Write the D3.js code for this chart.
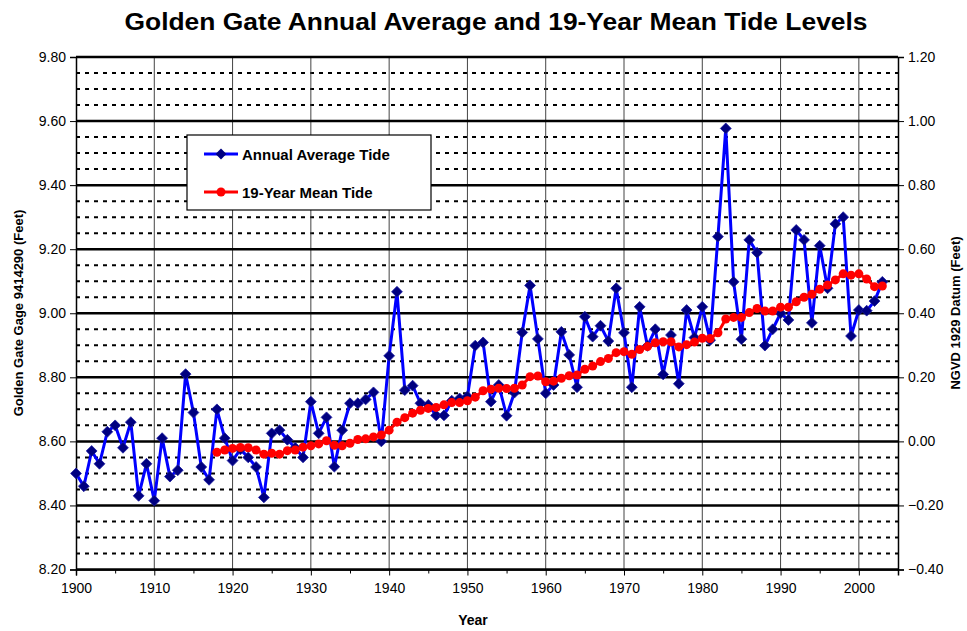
<!DOCTYPE html>
<html><head><meta charset="utf-8">
<script src="https://cdn.jsdelivr.net/npm/d3@7"></script>
<style>
body{margin:0;background:#fff;}
text{font-family:"Liberation Sans",Arial,sans-serif;}
</style></head>
<body>
<svg id="c" width="967" height="631"></svg>
<script>
const annualYears = d3.range(1900, 2004);
const annualValues = [
8.50,8.46,8.57,8.53,8.63,8.65,8.58,8.66,8.43,8.53,
8.415,8.61,8.49,8.51,8.81,8.69,8.52,8.48,8.70,8.61,
8.54,8.575,8.55,8.52,8.425,8.625,8.635,8.605,8.58,8.55,
8.724,8.625,8.675,8.521,8.635,8.719,8.719,8.731,8.753,8.60,
8.867,9.067,8.76,8.774,8.719,8.714,8.681,8.681,8.727,8.734,
8.74,8.899,8.909,8.724,8.776,8.68,8.752,8.94,9.087,8.92,
8.75,8.776,8.942,8.87,8.769,8.989,8.927,8.961,8.913,9.078,
8.939,8.769,9.02,8.898,8.95,8.809,8.932,8.78,9.01,8.924,
9.02,8.916,9.239,9.577,9.098,8.919,9.229,9.189,8.899,8.95,
9.0,8.979,9.26,9.229,8.97,9.211,9.078,9.279,9.3,8.929,
9.01,9.008,9.038,9.098];
const meanYears = d3.range(1918, 2004);
const meanValues = [
8.566,8.573,8.578,8.581,8.580,8.573,8.560,8.563,8.560,8.571,
8.573,8.582,8.586,8.592,8.602,8.588,8.586,8.594,8.606,8.608,
8.614,8.620,8.635,8.660,8.674,8.688,8.697,8.703,8.706,8.714,
8.721,8.721,8.727,8.738,8.758,8.763,8.766,8.765,8.766,8.776,
8.802,8.804,8.786,8.788,8.797,8.805,8.807,8.825,8.835,8.849,
8.859,8.877,8.880,8.872,8.887,8.896,8.908,8.911,8.911,8.895,
8.902,8.910,8.922,8.921,8.939,8.982,8.987,8.987,9.002,9.015,
9.007,9.007,9.019,9.019,9.036,9.050,9.059,9.075,9.088,9.104,
9.123,9.119,9.123,9.107,9.083,9.085];
const xTicks = d3.range(1900, 2001, 10);
const leftTicks = [8.20,8.40,8.60,8.80,9.00,9.20,9.40,9.60,9.80];
const rightTicks = [-0.40,-0.20,0.00,0.20,0.40,0.60,0.80,1.00,1.20];
const titleText = "Golden Gate Annual Average and 19-Year Mean Tide Levels";
const seriesNames = ["Annual Average Tide","19-Year Mean Tide"];

const svg = d3.select("#c");
const L=76, R=898, T=57, B=569.5;
const x = d3.scaleLinear().domain([1900,2005]).range([L,R]);
const y = d3.scaleLinear().domain([8.20,9.80]).range([B,T]);
const y2 = d3.scaleLinear().domain([-0.40,1.20]).range([B,T]);

// minor dotted gridlines
const minor = d3.range(8.25, 9.80, 0.05).filter(v => Math.abs((v*100)%20) > 1 && Math.abs((v*100)%20 - 20) > 1);
svg.append("g").selectAll("line").data(minor).join("line")
  .attr("x1",L).attr("x2",R).attr("y1",d=>y(d)).attr("y2",d=>y(d))
  .attr("stroke","#000").attr("stroke-width",2).attr("stroke-dasharray","4,5");
// vertical grid
svg.append("g").selectAll("line").data(xTicks.slice(1)).join("line")
  .attr("x1",d=>x(d)).attr("x2",d=>x(d)).attr("y1",T).attr("y2",B)
  .attr("stroke","#444").attr("stroke-width",1);
// major horizontal gridlines
svg.append("g").selectAll("line").data(leftTicks).join("line")
  .attr("x1",L).attr("x2",R).attr("y1",d=>y(d)).attr("y2",d=>y(d))
  .attr("stroke","#000").attr("stroke-width",2.5);

// axes
const fmt = d3.format(".2f");
const gL = svg.append("g").attr("transform",`translate(${L},0)`)
  .call(d3.axisLeft(y).tickValues(leftTicks).tickFormat(fmt).tickSize(6).tickPadding(4));
const gR = svg.append("g").attr("transform",`translate(${R},0)`)
  .call(d3.axisRight(y2).tickValues(rightTicks).tickFormat(fmt).tickSize(6).tickPadding(4));
const gB = svg.append("g").attr("transform",`translate(0,${B})`)
  .call(d3.axisBottom(x).tickValues(xTicks).tickFormat(d3.format("d")).tickSize(6).tickPadding(8));
svg.append("g").attr("transform",`translate(0,${B})`)
  .call(d3.axisBottom(x).tickValues(d3.range(1905,2005,10)).tickFormat("").tickSize(4))
  .select(".domain").remove();
[gL,gR,gB].forEach(g=>{
  g.selectAll("text").attr("font-size",14).attr("fill","#000").style("font-family","Liberation Sans, Arial, sans-serif");
  g.selectAll("line").attr("stroke","#000");
  g.select(".domain").attr("stroke","#000").attr("stroke-width",1.5);
});

// lines
const line = d3.line().x(d=>x(d[0])).y(d=>y(d[1]));
const aData = annualYears.map((yr,i)=>[yr,annualValues[i]]);
const mData = meanYears.map((yr,i)=>[yr,meanValues[i]]);
svg.append("path").datum(aData).attr("d",line).attr("fill","none").attr("stroke","#0000ff").attr("stroke-width",3).attr("stroke-linejoin","round");
const dia = d3.symbol().type(d3.symbolDiamond2 || d3.symbolDiamond).size(75);
svg.append("g").selectAll("path").data(aData).join("path")
  .attr("d",dia).attr("transform",d=>`translate(${x(d[0])},${y(d[1])})`)
  .attr("fill","#000080").attr("stroke","#1a1aa0").attr("stroke-width",0.8);
svg.append("path").datum(mData).attr("d",line).attr("fill","none").attr("stroke","#ff0000").attr("stroke-width",3);
svg.append("g").selectAll("circle").data(mData).join("circle")
  .attr("cx",d=>x(d[0])).attr("cy",d=>y(d[1])).attr("r",4.5).attr("fill","#ff0000");

// legend
const lg = svg.append("g");
lg.append("rect").attr("x",187).attr("y",135).attr("width",244).attr("height",75)
  .attr("fill","#fff").attr("stroke","#000").attr("stroke-width",1.2);
const rows=[{c:"#0000ff",m:"d",t:seriesNames[0],yy:154},{c:"#ff0000",m:"c",t:seriesNames[1],yy:192}];
rows.forEach(r=>{
  lg.append("line").attr("x1",204).attr("x2",238).attr("y1",r.yy).attr("y2",r.yy).attr("stroke",r.c).attr("stroke-width",3);
  if(r.m==="d") lg.append("path").attr("d",dia).attr("transform",`translate(221,${r.yy})`).attr("fill","#000080");
  else lg.append("circle").attr("cx",221).attr("cy",r.yy).attr("r",4.5).attr("fill","#ff0000");
  lg.append("text").attr("x",242).attr("y",r.yy+5.5).attr("font-size",15).attr("font-weight","bold").text(r.t);
});

// titles
svg.append("text").attr("x",496).attr("y",30).attr("text-anchor","middle")
  .attr("font-size",24).attr("font-weight","bold")
  .attr("textLength",743).attr("lengthAdjust","spacingAndGlyphs").text(titleText);
svg.append("text").attr("x",473).attr("y",625).attr("text-anchor","middle")
  .attr("font-size",14).attr("font-weight","bold").text("Year");
svg.append("text").attr("transform","translate(23,313) rotate(-90)").attr("text-anchor","middle")
  .attr("font-size",13).attr("font-weight","bold").text("Golden Gate Gage 9414290 (Feet)");
svg.append("text").attr("transform","translate(960,313) rotate(-90)").attr("text-anchor","middle")
  .attr("font-size",13).attr("font-weight","bold").text("NGVD 1929 Datum (Feet)");
</script>
</body></html>
